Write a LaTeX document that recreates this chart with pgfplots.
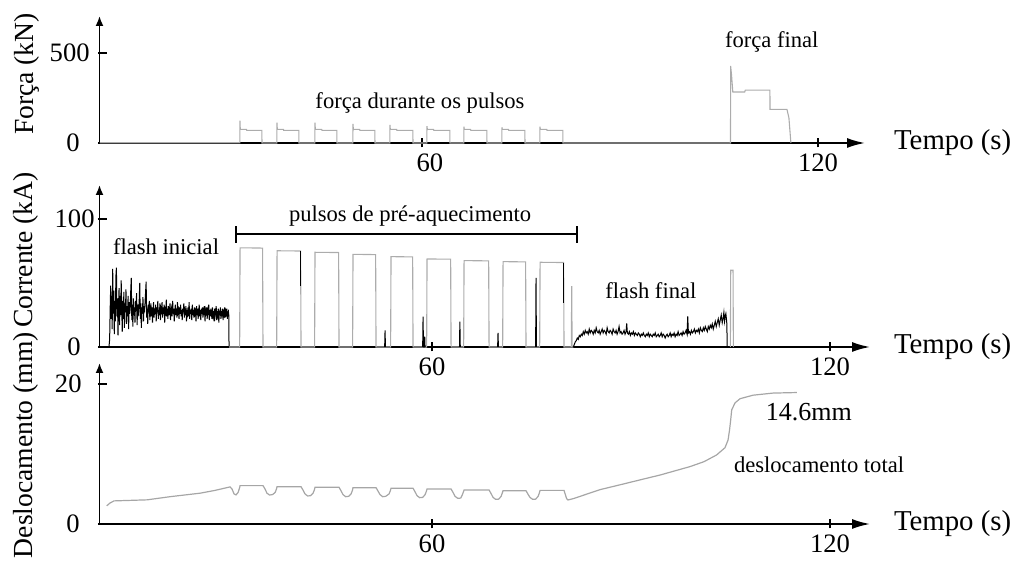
\documentclass[border=0pt]{standalone}
\usepackage{fontspec}
\setmainfont{Liberation Serif}
\usepackage{pgfplots}
\pgfplotsset{compat=1.18}
\usetikzlibrary{arrows.meta}

\newcommand{\tickfont}{\fontsize{13.3}{15}\selectfont}
\newcommand{\labfont}{\fontsize{13.8}{16}\selectfont}
\newcommand{\tempofont}{\fontsize{14.4}{17}\selectfont}
\newcommand{\notefont}{\fontsize{11.3}{13}\selectfont}

\pgfplotsset{
  panel/.style={
    scale only axis,
    axis lines=left,
    enlargelimits=false,
    clip=false,
    x axis line style={line width=0.9pt, -{Latex[length=9pt,width=5pt]}},
    y axis line style={line width=0.9pt, -{Latex[length=5pt,width=4pt]}},
    tick align=center,
    major tick length=4.5pt,
    xtick={60,120},
    x tick style={line width=0.8pt, black},
    y tick style={line width=0.8pt, black, xshift=1.5pt},
    /pgf/number format/assume math mode=true,
    xticklabel style={font=\tickfont, inner sep=0pt, anchor=north, yshift=-3pt},
    yticklabel style={font=\tickfont, inner sep=0pt, anchor=east},
    every axis y label/.style={font=\labfont, rotate=90, anchor=center},
    every axis x label/.style={font=\tempofont, anchor=west},
  },
  pulse/.style={gray!65, line width=0.55pt},
  noise/.style={black, line width=0.5pt},
}

\begin{document}
\begin{tikzpicture}
\useasboundingbox (0,0) rectangle (507.5pt,282.5pt);

% ---------- Força ----------
\begin{axis}[panel,
  at={(49.75pt,211pt)}, anchor=south west,
  width=382.75pt, height=63.5pt,
  xmin=11.14, xmax=127.13, ymin=0, ymax=705.6,
  ytick={0,500}, yticklabels={{0\hspace*{5pt}},{500}},
  yticklabel style={xshift=-2.5pt},
  xticklabels={{\hspace*{8pt}60},{120}},
  ylabel={Força (kN)},
  every axis y label/.append style={at={(axis description cs:-0.095,0.543)}},
  xlabel={Tempo (s)},
  every axis x label/.append style={at={(axis description cs:1.0288,0)}},
]
\addplot[noise] coordinates {(11.2,2.5)(32.40,2.5)};
\addplot[pulse] coordinates {
(11.2,1.5)(32.40,1.5)(32.42,124)(32.47,76)(33.40,76)(33.45,70)(35.74,70)(35.76,0)
(38.01,0)(38.03,113)(38.08,76)(39.00,76)(39.05,70)(41.34,70)(41.36,0)
(43.77,0)(43.79,113)(43.84,76)(44.80,76)(44.85,70)(47.10,70)(47.12,0)
(49.53,0)(49.55,106)(49.60,76)(50.55,76)(50.60,70)(52.86,70)(52.88,0)
(55.13,0)(55.15,100)(55.20,76)(56.15,76)(56.20,70)(58.62,70)(58.64,0)
(60.74,0)(60.76,94)(60.81,76)(61.75,76)(61.80,70)(64.22,70)(64.24,0)
(66.34,0)(66.36,91)(66.41,76)(67.35,76)(67.40,70)(69.83,70)(69.85,0)
(72.10,0)(72.12,87)(72.17,76)(73.10,76)(73.15,70)(75.59,70)(75.61,0)
(77.86,0)(77.88,91)(77.93,76)(78.90,76)(78.95,70)(81.34,70)(81.36,0)
(106.75,0)(106.77,428)(106.90,380)(107.10,283)(108.90,283)(109.00,294)
(112.72,294)(112.74,187)(115.30,187)(115.60,140)(115.90,0)
};
\node[font=\notefont] at (axis cs:59.7,222) {força durante os pulsos};
\node[font=\notefont] at (axis cs:113.0,561) {força final};
\end{axis}

% ---------- Corrente ----------
\begin{axis}[panel,
  at={(49.75pt,109pt)}, anchor=south west,
  width=385.25pt, height=81pt,
  xmin=9.87, xmax=126.03, ymin=0, ymax=126.6,
  ytick={0,100}, yticklabels={{0\hspace*{7pt}},{100}},
  yticklabel style={xshift=0pt},
  ylabel={Corrente (kA)},
  every axis y label/.append style={at={(axis description cs:-0.096,0.599)}},
  xlabel={Tempo (s)},
  every axis x label/.append style={at={(axis description cs:1.022,0)}},
]
% flash inicial
\addplot[noise] coordinates {
(11.30,0)(11.40,6)(11.48,30)(11.56,48)(11.63,22)(11.70,40)(11.78,14)(11.86,61)
(11.94,26)(12.02,44)(12.10,10)(12.18,36)(12.26,20)(12.34,55)(12.42,62)(12.50,24)
(12.58,38)(12.66,9)(12.74,33)(12.82,46)(12.90,17)(12.98,40)(13.06,25)(13.14,52)
(13.22,30)(13.30,12)(13.38,36)(13.46,22)(13.54,43)(13.62,15)(13.70,34)(13.78,27)
(13.86,45)(13.94,18)(14.02,32)(14.10,24)(14.18,40)(14.26,14)(14.34,35)(14.42,26)
(14.50,30)(14.58,44)(14.66,54)(14.74,21)(14.82,33)(14.90,16)(14.98,38)(15.06,25)
(15.14,31)(15.22,19)(15.30,36)(15.38,28)(15.46,42)(15.54,17)(15.62,33)(15.70,24)
(15.78,29)(15.86,37)(15.94,50)(16.02,22)(16.10,34)(16.18,15)(16.26,31)(16.34,26)
(16.42,39)(16.50,20)(16.58,32)(16.66,27)(16.74,35)(16.82,43)(16.90,51)(16.98,23)
(17.06,30)(17.14,18)(17.22,33)(17.30,27)(17.38,36)(17.46,21)(17.54,29)(17.62,34)
(17.70,24)(17.78,31)(17.86,19)(17.94,28)(18.02,35)(18.10,23)(18.18,30)(18.26,26)
(18.34,33)(18.42,20)(18.50,31)(18.58,27)(18.66,36)(18.74,22)(18.82,29)(18.90,25)
(18.98,34)(19.06,21)(19.14,30)(19.22,28)(19.30,35)(19.38,23)(19.46,31)(19.54,26)
(19.62,33)(19.70,19)(19.78,29)(19.86,27)(19.94,37)(20.02,24)(20.10,30)(20.18,22)
(20.26,32)(20.34,28)(20.42,25)(20.50,34)(20.58,21)(20.66,29)(20.74,31)(20.82,24)
(20.90,36)(20.98,26)(21.06,30)(21.14,20)(21.22,28)(21.30,33)(21.38,25)(21.46,30)
(21.54,23)(21.62,35)(21.70,27)(21.78,29)(21.86,22)(21.94,31)(22.02,26)(22.10,33)
(22.18,24)(22.26,29)(22.34,21)(22.42,30)(22.50,27)(22.58,34)(22.66,23)(22.74,28)
(22.82,25)(22.90,32)(22.98,20)(23.06,29)(23.14,26)(23.22,31)(23.30,24)(23.38,35)
(23.46,22)(23.54,28)(23.62,27)(23.70,30)(23.78,21)(23.86,33)(23.94,25)(24.02,29)
(24.10,23)(24.18,31)(24.26,26)(24.34,28)(24.42,20)(24.50,32)(24.58,25)(24.66,30)
(24.74,22)(24.82,27)(24.90,33)(24.98,24)(25.06,29)(25.14,21)(25.22,30)(25.30,26)
(25.38,31)(25.46,23)(25.54,28)(25.62,25)(25.70,32)(25.78,20)(25.86,29)(25.94,27)
(26.02,31)(26.10,22)(26.18,28)(26.26,25)(26.34,33)(26.42,21)(26.50,29)(26.58,24)
(26.66,30)(26.74,26)(26.82,22)(26.90,31)(26.98,25)(27.06,28)(27.14,20)(27.22,30)
(27.30,24)(27.38,27)(27.46,32)(27.54,21)(27.62,28)(27.70,25)(27.78,30)(27.86,19)
(27.94,27)(28.02,26)(28.10,31)(28.18,22)(28.26,28)(28.34,24)(28.42,30)(28.50,21)
(28.58,27)(28.66,25)(28.74,31)(28.82,23)(28.90,28)(28.98,26)(29.06,30)(29.14,22)
(29.22,27)(29.30,28)(29.36,25)(29.40,0)
};
% pulsos de pré-aquecimento
\addplot[pulse] coordinates {
(29.40,0)(31.00,0)(31.06,77.5)(34.45,77.3)(34.52,0)
(36.58,0)(36.64,75.2)(40.19,75.0)(40.25,0)
(42.30,0)(42.36,74.0)(45.92,73.8)(45.98,0)
(48.03,0)(48.09,72.4)(51.50,72.2)(51.56,0)
(53.76,0)(53.82,70.6)(57.08,70.4)(57.14,0)
(59.19,0)(59.25,68.8)(62.81,68.6)(62.87,0)
(64.77,0)(64.83,67.5)(68.54,67.3)(68.60,0)
(70.65,0)(70.71,66.7)(74.11,66.5)(74.17,0)
(76.23,0)(76.29,66.2)(79.84,66.0)(79.90,0)
(81.00,0)(81.06,47.6)(81.12,0)(81.30,0)
};
\addplot[noise] coordinates {(52.86,0)(52.92,13)(52.98,0)};
\addplot[noise] coordinates {(58.59,0)(58.65,23.7)(58.71,0)(58.85,0)(58.90,8)(58.95,0)};
\addplot[noise] coordinates {(64.14,0)(64.20,19.8)(64.26,0)};
\addplot[noise] coordinates {(69.89,0)(69.95,11)(70.01,0)};
\addplot[noise] coordinates {(75.62,0)(75.68,54)(75.74,0)};
\addplot[noise] coordinates {(40.22,75.0)(40.22,48)};
\addplot[noise] coordinates {(79.87,66.0)(79.87,34)};
% flash final
\addplot[noise] coordinates {
(81.30,0)(81.45,2)(81.60,4)(81.75,5)(81.90,7)(82.05,6)(82.20,9)(82.35,8)
(82.50,10)(82.65,9)(82.80,12)(82.95,10)(83.10,13)(83.25,11)(83.40,12)(83.55,10)
(83.70,14)(83.85,11)(84.00,13)(84.15,12)(84.30,10)(84.45,13)(84.60,11)(84.75,15)
(84.90,12)(85.05,11)(85.20,13)(85.35,10)(85.50,12)(85.65,14)(85.80,11)(85.95,13)
(86.10,12)(86.25,10)(86.40,15)(86.55,12)(86.70,11)(86.85,13)(87.00,12)(87.15,10)
(87.30,14)(87.45,12)(87.60,11)(87.75,13)(87.90,10)(88.05,12)(88.20,16)(88.35,11)
(88.50,12)(88.65,10)(88.80,11)(88.95,13)(89.10,10)(89.25,12)(89.35,18.5)(89.45,11)
(89.60,10)(89.75,12)(89.90,9)(90.05,11)(90.20,10)(90.35,12)(90.50,9)(90.65,11)
(90.80,10)(90.95,9)(91.10,11)(91.25,10)(91.40,8)(91.55,10)(91.70,9)(91.85,11)
(92.00,9)(92.15,8)(92.30,10)(92.45,9)(92.60,11)(92.75,8)(92.90,10)(93.05,9)
(93.20,8)(93.35,10)(93.50,9)(93.65,11)(93.80,8)(93.95,9)(94.10,10)(94.25,8)
(94.40,9)(94.55,11)(94.70,8)(94.85,10)(95.00,9)(95.15,7)(95.30,9)(95.45,10)
(95.60,8)(95.75,9)(95.90,11)(96.05,8)(96.20,10)(96.35,9)(96.50,11)(96.65,8)
(96.80,10)(96.95,9)(97.10,12)(97.25,9)(97.40,10)(97.55,11)(97.70,9)(97.85,12)
(98.00,10)(98.15,11)(98.30,13)(98.45,10)(98.55,24)(98.65,11)(98.80,12)(98.95,10)
(99.10,13)(99.25,11)(99.40,12)(99.55,14)(99.70,11)(99.85,13)(100.00,12)(100.15,14)
(100.30,11)(100.45,15)(100.60,13)(100.75,12)(100.90,15)(101.05,13)(101.20,16)(101.35,14)
(101.50,12)(101.65,16)(101.80,14)(101.95,17)(102.10,15)(102.25,18)(102.40,14)(102.55,17)
(102.70,20)(102.85,16)(103.00,19)(103.15,22)(103.30,17)(103.45,21)(103.60,25)(103.75,19)
(103.90,23)(104.00,27)(104.10,20)(104.20,24)(104.30,26)(104.40,21)(104.45,18)(104.50,0)
};
\addplot[pulse] coordinates {(104.98,0)(105.03,60)(105.38,60)(105.43,0)};
% bracket over the pre-heating pulses
\draw[line width=0.7pt] (axis cs:30.45,88.3) -- (axis cs:81.86,88.3);
\draw[line width=0.7pt] (axis cs:30.45,94.5) -- (axis cs:30.45,81.2);
\draw[line width=0.7pt] (axis cs:81.86,94.5) -- (axis cs:81.86,81.2);
\node[font=\notefont] at (axis cs:56.7,102.3) {pulsos de pré-aquecimento};
\node[font=\notefont] at (axis cs:19.9,78.1) {flash inicial};
\node[font=\notefont] at (axis cs:93.0,43.75) {flash final};
\end{axis}

% ---------- Deslocamento ----------
\begin{axis}[panel,
  at={(49.75pt,20.5pt)}, anchor=south west,
  width=385.25pt, height=80.5pt,
  xmin=9.87, xmax=126.03, ymin=0, ymax=23.0,
  ytick={0,20}, yticklabels={{0\hspace*{1pt}},{20}},
  yticklabel style={xshift=-6.5pt},
  ylabel={Deslocamento (mm)},
  every axis y label/.append style={at={(axis description cs:-0.096,0.49)}},
  xlabel={Tempo (s)},
  every axis x label/.append style={at={(axis description cs:1.022,0)}},
]
\addplot[gray!70, line width=0.6pt] coordinates {
(10.96,2.6)(11.46,3.0)(12.06,3.3)(17.04,3.45)(20.50,3.9)(25.03,4.4)(27.29,4.8)(29.55,5.3)
(29.85,5.0)(30.15,4.3)(30.45,4.15)(30.76,4.5)(31.00,5.2)(31.06,5.48)
(34.52,5.48)(34.82,5.0)(35.12,4.4)(35.50,4.14)(35.95,4.2)(36.35,4.5)(36.55,5.0)(36.64,5.33)
(40.25,5.33)(40.55,4.85)(40.85,4.3)(41.25,4.0)(41.70,4.05)(42.07,4.4)(42.27,4.9)(42.36,5.24)
(45.98,5.24)(46.28,4.75)(46.58,4.2)(46.98,3.9)(47.43,3.95)(47.80,4.3)(48.00,4.8)(48.09,5.19)
(51.56,5.19)(51.86,4.7)(52.16,4.2)(52.56,3.9)(53.01,3.95)(53.53,4.3)(53.73,4.8)(53.82,5.10)
(57.14,5.10)(57.44,4.6)(57.74,4.05)(58.14,3.76)(58.59,3.8)(58.96,4.2)(59.16,4.7)(59.25,5.00)
(62.87,5.00)(63.17,4.5)(63.47,3.95)(63.87,3.67)(64.32,3.7)(64.54,4.1)(64.74,4.6)(64.83,4.86)
(68.60,4.86)(68.90,4.35)(69.20,3.8)(69.60,3.52)(70.05,3.55)(70.42,3.95)(70.62,4.5)(70.71,4.76)
(74.17,4.76)(74.47,4.25)(74.77,3.8)(75.17,3.52)(75.62,3.55)(76.00,3.95)(76.20,4.5)(76.29,4.80)
(79.90,4.80)(80.10,4.2)(80.30,3.6)(80.50,3.43)(81.40,3.65)(82.80,4.1)(85.30,4.9)
(88.35,5.6)(91.36,6.3)(94.40,7.0)(97.40,7.8)(98.90,8.2)(101.00,8.9)(102.90,9.86)
(104.17,10.9)(104.63,12.0)(104.85,13.4)(105.03,14.9)(105.18,16.3)(105.68,17.3)
(106.44,17.9)(108.40,18.4)(111.40,18.7)(115.00,18.78)
};
\node[font=\fontsize{13}{15}\selectfont] at (axis cs:116.8,16.0) {14.6mm};
\node[font=\notefont] at (axis cs:118.35,8.43) {deslocamento total};
\end{axis}
\end{tikzpicture}
\end{document}
